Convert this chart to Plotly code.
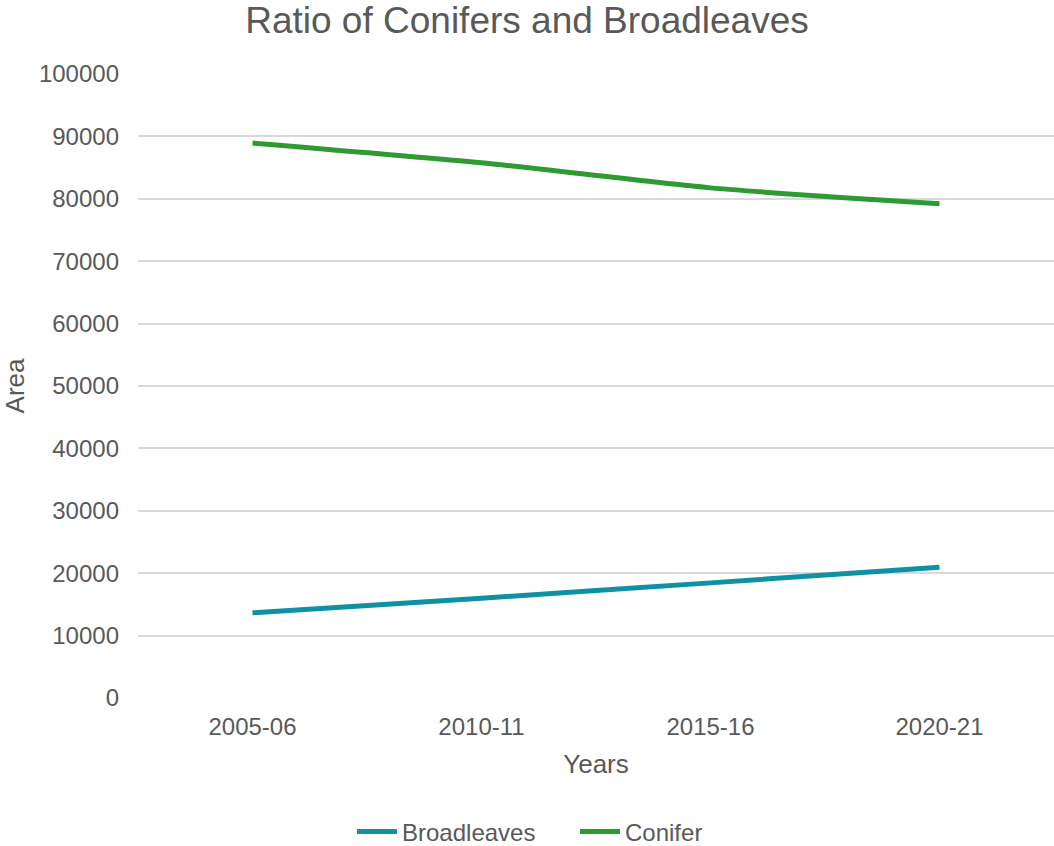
import plotly.graph_objects as go

years = ["2005-06", "2010-11", "2015-16", "2020-21"]
broadleaves = [13650, 16000, 18450, 20960]
conifer = [88940, 85780, 81750, 79200]

TEXT = "#595959"
FONT = "Liberation Sans, Arial, sans-serif"

fig = go.Figure()
fig.add_trace(go.Scatter(x=years, y=broadleaves, name="Broadleaves", mode="lines",
                         line=dict(color="#0E91A2", width=5, shape="spline", smoothing=0.6)))
fig.add_trace(go.Scatter(x=years, y=conifer, name="Conifer", mode="lines",
                         line=dict(color="#2E9A32", width=5, shape="spline", smoothing=0.6)))

fig.update_layout(
    width=1054, height=846,
    margin=dict(l=138, r=0, t=74, b=148),
    paper_bgcolor="white", plot_bgcolor="white",
    font=dict(family=FONT, color=TEXT, size=24),
    title=dict(text="Ratio of Conifers and Broadleaves", x=0.5, xref="container", xanchor="center",
               y=1 - 20 / 846, yref="container", yanchor="middle",
               font=dict(size=37, color=TEXT, family=FONT)),
    showlegend=True,
    legend=dict(orientation="h", x=575 / 1054, xanchor="center", xref="container",
                y=1 - 832 / 846, yref="container", yanchor="middle",
                font=dict(size=24, color=TEXT), itemwidth=40, entrywidth=168,
                entrywidthmode="pixels", traceorder="normal"),
    xaxis=dict(type="category", range=[-0.5, 3.5], showgrid=False, showline=False, zeroline=False,
               ticks="", tickfont=dict(size=24, color=TEXT), ticklabelstandoff=12,
               title=dict(text="Years", font=dict(size=26, color=TEXT), standoff=15)),
    yaxis=dict(range=[0, 100000], dtick=10000, showgrid=True, gridcolor="#d9d9d9", gridwidth=1.5,
               zeroline=False, showline=False, ticks="", tickformat="d",
               tickfont=dict(size=24, color=TEXT), ticklabelstandoff=18,
               title=dict(text="Area", font=dict(size=26, color=TEXT), standoff=8)),
)

fig.write_html("out.html")
